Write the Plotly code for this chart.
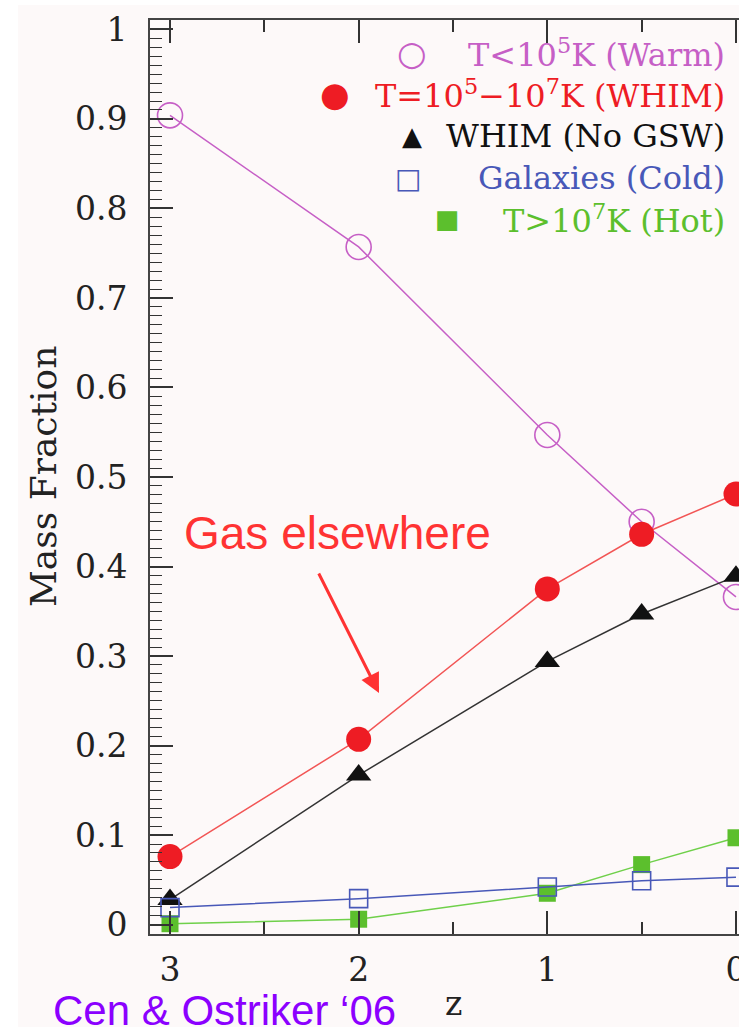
import plotly.graph_objects as go

# ---------------- data ----------------
z = [3, 2, 1, 0.5, 0]
warm = [0.904, 0.757, 0.547, 0.450, 0.366]        # T<1e5 K (Warm)
whim = [0.076, 0.207, 0.375, 0.436, 0.481]        # T=1e5-1e7 K (WHIM)
whim_nogsw = [0.028, 0.167, 0.294, 0.347, 0.389]  # WHIM (No GSW)
hot = [0.001, 0.006, 0.035, 0.067, 0.097]         # T>1e7 K (Hot)
galaxies = [0.019, 0.029, 0.042, 0.049, 0.053]    # Galaxies (Cold)

legend_labels = [
    "T<10<sup>5</sup>K (Warm)",
    "T=10<sup>5</sup>\u221210<sup>7</sup>K (WHIM)",
    "WHIM (No GSW)",
    "Galaxies (Cold)",
    "T>10<sup>7</sup>K (Hot)",
]
legend_glyphs = ["\u25CB", "\u25CF", "\u25B2", "\u25A1", "\u25A0"]

W, H = 739, 1027
ML, MR, MT, MB = 150, 0, 20, 93
PW, PH = W - ML - MR, H - MT - MB


def px(x):
    return (x - ML) / PW


def py(y):
    return (H - MB - y) / PH


SERIF = "DejaVu Serif"
SANS = "Liberation Sans"
BG = "#fdf9f9"

MAGENTA = "#c65fc6"
RED = "#ee1c24"
RED_LINE = "#f25555"
BLACK = "#111111"
BLUE = "#4858b8"
GREEN = "#5cbf2d"
GREEN_LINE = "#6fd04a"

fig = go.Figure()

fig.add_trace(go.Scatter(
    x=z, y=warm, mode="lines+markers", cliponaxis=False,
    line=dict(color=MAGENTA, width=1.5),
    marker=dict(symbol="circle-open", size=25, color=MAGENTA, line=dict(width=1.6, color=MAGENTA)),
))
fig.add_trace(go.Scatter(
    x=z, y=whim, mode="lines+markers", cliponaxis=False,
    line=dict(color=RED_LINE, width=1.5),
    marker=dict(symbol="circle", size=25, color=RED),
))
fig.add_trace(go.Scatter(
    x=z, y=whim_nogsw, mode="lines+markers", cliponaxis=False,
    line=dict(color="#333333", width=1.5),
    marker=dict(symbol="triangle-up", size=22, color=BLACK),
))
fig.add_trace(go.Scatter(
    x=z, y=hot, mode="lines+markers", cliponaxis=False,
    line=dict(color=GREEN_LINE, width=1.5),
    marker=dict(symbol="square", size=17, color=GREEN),
))
fig.add_trace(go.Scatter(
    x=z, y=galaxies, mode="lines+markers", cliponaxis=False,
    line=dict(color=BLUE, width=1.5),
    marker=dict(symbol="square-open", size=18, color=BLUE, line=dict(width=1.6, color=BLUE)),
))

axis_common = dict(
    showgrid=False, zeroline=False, showline=True, linecolor="#444444", linewidth=2,
    ticks="inside", tickcolor="#333333", tickwidth=1.5, ticklen=23,
    tickfont=dict(family=SERIF, size=33, color="#222222"),
    ticklabeloverflow="allow", automargin=False,
)

fig.update_xaxes(
    **axis_common,
    range=[3.106, -0.016], tick0=0, dtick=1, mirror="ticks",
    minor=dict(dtick=0.5, ticks="inside", ticklen=12, tickwidth=1.5, tickcolor="#333333"),
    ticklabelstandoff=5,
)
fig.update_yaxes(
    **axis_common,
    range=[-0.0105, 1.0105], tick0=0, dtick=0.1, mirror=False,
    minor=dict(dtick=0.01, ticks="inside", ticklen=12, tickwidth=1.2, tickcolor="#333333"),
    ticklabelstandoff=14,
)

annotations = []
# legend (text, right aligned) + glyph keys
row_y = [53, 94, 136, 178, 219]
glyph_x = [412, 335, 412, 408, 447]
row_colors = [MAGENTA, RED, BLACK, BLUE, GREEN]
glyph_sizes = [34, 34, 26, 28, 26]
for lab, g, yy, gx, col, gs in zip(legend_labels, legend_glyphs, row_y, glyph_x, row_colors, glyph_sizes):
    annotations.append(dict(
        text=lab, x=px(727), y=py(yy), xref="paper", yref="paper",
        xanchor="right", yanchor="middle", showarrow=False,
        font=dict(family=SERIF, size=32, color=col),
    ))
    annotations.append(dict(
        text=g, x=px(gx), y=py(yy), xref="paper", yref="paper",
        xanchor="center", yanchor="middle", showarrow=False,
        font=dict(family="DejaVu Sans", size=gs, color=col),
    ))

# axis titles
annotations.append(dict(
    text="Mass Fraction", x=px(43), y=py(477), xref="paper", yref="paper",
    xanchor="center", yanchor="middle", textangle=-90, showarrow=False,
    font=dict(family=SERIF, size=36, color="#222222"),
))
annotations.append(dict(
    text="z", x=px(453), y=py(1003), xref="paper", yref="paper",
    xanchor="center", yanchor="middle", showarrow=False,
    font=dict(family=SERIF, size=33, color="#222222"),
))
# "Gas elsewhere" note with arrow
annotations.append(dict(
    text="Gas elsewhere", x=px(337), y=py(533), xref="paper", yref="paper",
    xanchor="center", yanchor="middle", showarrow=False,
    font=dict(family=SANS, size=46, color="#ff3333"),
))
annotations.append(dict(
    text="", x=px(379), y=py(693), xref="paper", yref="paper",
    ax=318 - 379, ay=572 - 693, axref="pixel", ayref="pixel",
    showarrow=True, arrowhead=2, arrowsize=1.3, arrowwidth=3, arrowcolor="#ff3333",
))
# citation
annotations.append(dict(
    text="Cen & Ostriker \u201806", x=px(224), y=py(1010), xref="paper", yref="paper",
    xanchor="center", yanchor="middle", showarrow=False,
    font=dict(family=SANS, size=42, color="#8b00ff"),
))

fig.update_layout(
    width=W, height=H, autosize=False,
    margin=dict(l=ML, r=MR, t=MT, b=MB, pad=0, autoexpand=False),
    paper_bgcolor="white", plot_bgcolor=BG,
    showlegend=False,
    annotations=annotations,
    shapes=[dict(
        type="rect", xref="paper", yref="paper",
        x0=px(18), x1=px(W + 5), y0=py(H + 5), y1=py(5),
        fillcolor=BG, line=dict(width=0), layer="below",
    )],
)

fig.write_html(
    "out.html",
    config={"displayModeBar": False},
    post_script="document.body.style.margin='0';document.body.style.overflow='hidden';",
)
